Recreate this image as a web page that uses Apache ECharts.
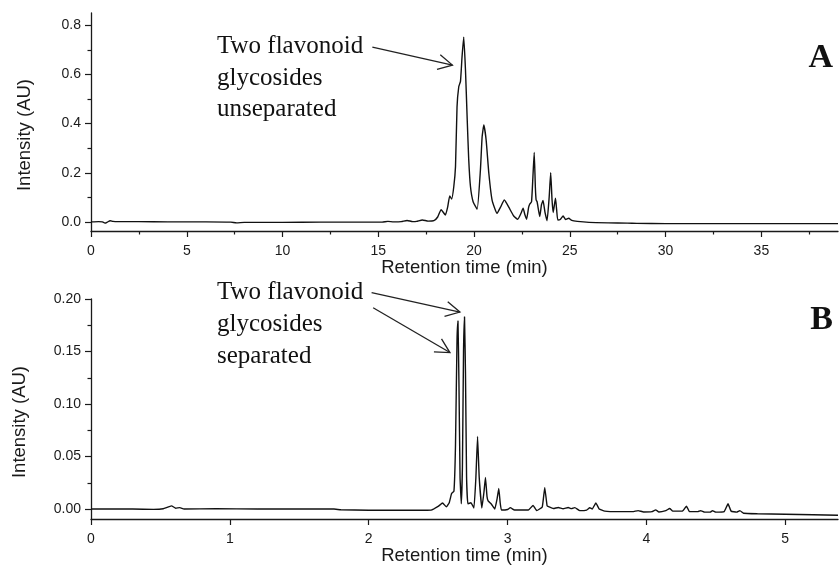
<!DOCTYPE html>
<html>
<head>
<meta charset="utf-8">
<script src="https://cdn.jsdelivr.net/npm/echarts@6/dist/echarts.min.js"></script>
<style>
    html, body { margin: 0; padding: 0; background: #fff; }
    #chart { width: 839px; height: 570px; }
</style>
</head>
<body>
<div id="chart"></div>
<script>
// trace A: retention time (min), intensity (AU)
const traceA = [
    [0, 0.0], [0.4, 0.001], [0.6, 0.0], [0.73, -0.005], [0.85, -0.001], [1.0, 0.005], [1.15, 0.002],
    [1.4, 0.001], [2.5, 0.001], [4, 0.0], [6, 0.0], [7.3, -0.001], [7.6, -0.004], [8, -0.002],
    [10, -0.002], [12, -0.001], [14, -0.001], [15.2, -0.001], [15.5, 0.002], [15.8, 0.0], [16.2, 0.001],
    [16.5, 0.006], [16.8, 0.001], [17.0, 0.002], [17.3, 0.008], [17.6, 0.003], [17.9, 0.005],
    [18.1, 0.02], [18.28, 0.05], [18.5, 0.028], [18.62, 0.06], [18.73, 0.106], [18.83, 0.093],
    [18.94, 0.143], [19.03, 0.225], [19.11, 0.468], [19.2, 0.55], [19.29, 0.572], [19.37, 0.67],
    [19.46, 0.752], [19.55, 0.62], [19.64, 0.42], [19.72, 0.255], [19.81, 0.145], [19.95, 0.082],
    [20.16, 0.052], [20.33, 0.21], [20.42, 0.346], [20.51, 0.394], [20.63, 0.333], [20.77, 0.198],
    [20.94, 0.089], [21.2, 0.035], [21.38, 0.06], [21.58, 0.089], [21.81, 0.06], [22.07, 0.024],
    [22.28, 0.011], [22.45, 0.035], [22.56, 0.056], [22.65, 0.03], [22.74, 0.011], [22.85, 0.06],
    [22.91, 0.073], [23.0, 0.082], [23.07, 0.18], [23.14, 0.283], [23.2, 0.14], [23.24, 0.089],
    [23.29, 0.082], [23.36, 0.05], [23.43, 0.022], [23.52, 0.07], [23.6, 0.087], [23.7, 0.04],
    [23.81, 0.005], [23.92, 0.1], [24.0, 0.2], [24.07, 0.09], [24.13, 0.038], [24.25, 0.096],
    [24.31, 0.05], [24.37, 0.008], [24.5, 0.01], [24.65, 0.024], [24.78, 0.01], [24.94, 0.015],
    [25.1, 0.006], [25.39, 0.002], [26, -0.002], [27, -0.004], [28, -0.005], [28.5, -0.006],
    [30, -0.007], [32, -0.007], [35, -0.007], [37, -0.007], [39, -0.007]
]

// trace B
const traceB = [
    [0, 0.0], [0.3, 0.0], [0.45, -0.0003], [0.52, 0.0003], [0.58, 0.003], [0.61, 0.0008], [0.64, 0.0013],
    [0.67, 0.0], [0.9, 0.0002], [1.2, 0.0], [1.5, 0.0], [1.75, 0.0], [1.8, -0.0007], [2.0, -0.0012],
    [2.3, -0.0012], [2.45, -0.001], [2.5, 0.0025], [2.532, 0.0057], [2.56, 0.002], [2.58, 0.006],
    [2.597, 0.0147], [2.614, 0.017], [2.625, 0.06], [2.636, 0.16], [2.643, 0.179], [2.65, 0.12],
    [2.658, 0.03], [2.667, 0.005], [2.675, 0.04], [2.683, 0.15], [2.69, 0.183], [2.697, 0.13],
    [2.705, 0.03], [2.714, 0.005], [2.736, 0.006], [2.758, 0.001], [2.772, 0.03], [2.784, 0.069],
    [2.796, 0.03], [2.815, 0.001], [2.83, 0.016], [2.841, 0.03], [2.852, 0.012], [2.86, 0.0077],
    [2.884, 0.0045], [2.908, 0.0], [2.925, 0.01], [2.937, 0.0195], [2.947, 0.006], [2.956, -0.001],
    [3.0, -0.0005], [3.02, 0.0013], [3.05, -0.001], [3.15, -0.001], [3.184, 0.0035], [3.21, -0.0015],
    [3.25, 0.002], [3.268, 0.0204], [3.285, 0.003], [3.3, 0.002], [3.33, 0.0005], [3.365, 0.0015],
    [3.4, 0.0003], [3.437, 0.0015], [3.46, 0.0004], [3.485, 0.0013], [3.52, -0.0015], [3.57, -0.001],
    [3.592, 0.0012], [3.61, 0.0], [3.636, 0.0057], [3.66, 0.0], [3.7, -0.002], [3.8, -0.0025],
    [3.9, -0.0025], [3.94, -0.0015], [3.98, -0.0028], [4.04, -0.0025], [4.067, -0.0008], [4.09, -0.0028],
    [4.14, -0.0015], [4.168, 0.0005], [4.19, -0.002], [4.26, -0.002], [4.289, 0.0028], [4.31, -0.0025],
    [4.37, -0.0025], [4.39, -0.0015], [4.42, -0.003], [4.46, -0.003], [4.476, -0.0015], [4.5, -0.003],
    [4.56, -0.0025], [4.588, 0.005], [4.61, -0.002], [4.65, -0.003], [4.673, -0.0015], [4.7, -0.004],
    [4.8, -0.0045], [5.0, -0.005], [5.2, -0.0055], [5.38, -0.006]
]

const xTicksA = [0, 5, 10, 15, 20, 25, 30, 35]
const xMinorA = [2.5, 7.5, 12.5, 17.5, 22.5, 27.5, 32.5, 37.5]
const yTicksA = [0, 0.2, 0.4, 0.6, 0.8]
const yMinorA = [0.1, 0.3, 0.5, 0.7]

const xTicksB = [0, 1, 2, 3, 4, 5]
const yTicksB = [0, 0.05, 0.1, 0.15, 0.2]
const yMinorB = [0.025, 0.075, 0.125, 0.175]

const annoLinesA = ["Two flavonoid", "glycosides", "unseparated"]
const annoLinesB = ["Two flavonoid", "glycosides", "separated"]

// arrows in data coords: [gridIndex, from, to]
const arrows = [
    [0, [14.69, 0.711], [18.87, 0.638]],
    [1, [2.021, 0.206], [2.657, 0.1876]],
    [1, [2.032, 0.1917], [2.585, 0.149]]
]

const sans = "Liberation Sans, Arial, sans-serif"
const serif = "Liberation Serif, Times New Roman, serif"
const ink = "#1a1a1a"

function mainX(grid, max, ticks, name, digits){
    return {
        type: "value", gridIndex: grid, min: 0, max: max, position: "bottom",
        name: name, nameLocation: "middle", nameGap: 27, nameMoveOverlap: false,
        nameTextStyle: { fontFamily: sans, fontSize: 18.5, color: ink },
        axisLine: { onZero: false, lineStyle: { color: ink, width: 1.3 } },
        axisTick: { customValues: ticks, length: 6, lineStyle: { color: ink, width: 1.2 } },
        axisLabel: { customValues: ticks, margin: 13, fontFamily: sans, fontSize: 14, color: ink,
            formatter: v => v.toFixed(digits) },
        splitLine: { show: false }
    }
}

function minorX(grid, max, ticks){
    return {
        type: "value", gridIndex: grid, min: 0, max: max, position: "bottom",
        axisLine: { show: false, onZero: false },
        axisTick: { customValues: ticks, length: 3.5, lineStyle: { color: ink, width: 1.2 } },
        axisLabel: { show: false },
        splitLine: { show: false }
    }
}

function mainY(grid, min, max, ticks, digits, gap){
    return {
        type: "value", gridIndex: grid, min: min, max: max, position: "left",
        name: "Intensity (AU)", nameLocation: "middle", nameGap: gap, nameMoveOverlap: false,
        nameTextStyle: { fontFamily: sans, fontSize: 18.5, color: ink, padding: [0, 26, 0, 0] },
        axisLine: { onZero: false, lineStyle: { color: ink, width: 1.3 } },
        axisTick: { customValues: ticks, length: 6, lineStyle: { color: ink, width: 1.2 } },
        axisLabel: { customValues: ticks, margin: 10, fontFamily: sans, fontSize: 14, color: ink,
            formatter: v => v.toFixed(digits) },
        splitLine: { show: false }
    }
}

function minorY(grid, min, max, ticks){
    return {
        type: "value", gridIndex: grid, min: min, max: max, position: "left",
        axisLine: { show: false, onZero: false },
        axisTick: { customValues: ticks, length: 3.5, lineStyle: { color: ink, width: 1.2 } },
        axisLabel: { show: false },
        splitLine: { show: false }
    }
}

let myChart = echarts.init(document.getElementById("chart"))
myChart.setOption({
    animation: false,
    backgroundColor: "#fff",
    grid: [
        { left: 91, top: 13, right: 1, height: 218, outerBoundsMode: "none", containLabel: false },
        { left: 91, top: 299, right: 1, height: 220, outerBoundsMode: "none", containLabel: false }
    ],
    xAxis: [
        mainX(0, 39, xTicksA, "Retention time (min)", 0),
        minorX(0, 39, xMinorA),
        mainX(1, 5.38, xTicksB, "Retention time (min)", 0)
    ],
    yAxis: [
        mainY(0, -0.037, 0.85, yTicksA, 1, 57),
        minorY(0, -0.037, 0.85, yMinorA),
        mainY(1, -0.0095, 0.2, yTicksB, 2, 62),
        minorY(1, -0.0095, 0.2, yMinorB)
    ],
    series: [
        {
            type: "line", xAxisIndex: 0, yAxisIndex: 0, data: traceA,
            showSymbol: false, smooth: 0.15,
            lineStyle: { color: "#111", width: 1.4 }
        },
        {
            type: "line", xAxisIndex: 2, yAxisIndex: 2, data: traceB,
            showSymbol: false, smooth: 0.1,
            lineStyle: { color: "#111", width: 1.4 }
        }
    ]
})

// annotations, anchored to the grids
let graphics = []
arrows.forEach(a => {
    let p0 = myChart.convertToPixel({ gridIndex: a[0] }, a[1])
    let p1 = myChart.convertToPixel({ gridIndex: a[0] }, a[2])
    let ang = Math.atan2(p0[1] - p1[1], p0[0] - p1[0])
    let head = 16, spread = 28 * Math.PI / 180
    let h1 = [p1[0] + head * Math.cos(ang + spread), p1[1] + head * Math.sin(ang + spread)]
    let h2 = [p1[0] + head * Math.cos(ang - spread), p1[1] + head * Math.sin(ang - spread)]
    graphics.push({ type: "polyline", shape: { points: [p0, p1] }, style: { stroke: "#222", lineWidth: 1.3, fill: null } })
    graphics.push({ type: "polyline", shape: { points: [h1, p1, h2] }, style: { stroke: "#222", lineWidth: 1.3, fill: null } })
})

let lineYA = [49, 81, 112]
let lineYB = [295, 327, 359]
annoLinesA.forEach((t, i) => {
    graphics.push({ type: "text", left: 217, top: lineYA[i] - 15,
        style: { text: t, font: "25px " + serif, fill: "#111" } })
})
annoLinesB.forEach((t, i) => {
    graphics.push({ type: "text", left: 217, top: lineYB[i] - 15,
        style: { text: t, font: "25px " + serif, fill: "#111" } })
})
graphics.push({ type: "text", right: 6, top: 41, style: { text: "A", font: "bold 34px " + serif, fill: "#111" } })
graphics.push({ type: "text", right: 6, top: 303, style: { text: "B", font: "bold 34px " + serif, fill: "#111" } })

myChart.setOption({ graphic: graphics })
</script>
</body>
</html>
